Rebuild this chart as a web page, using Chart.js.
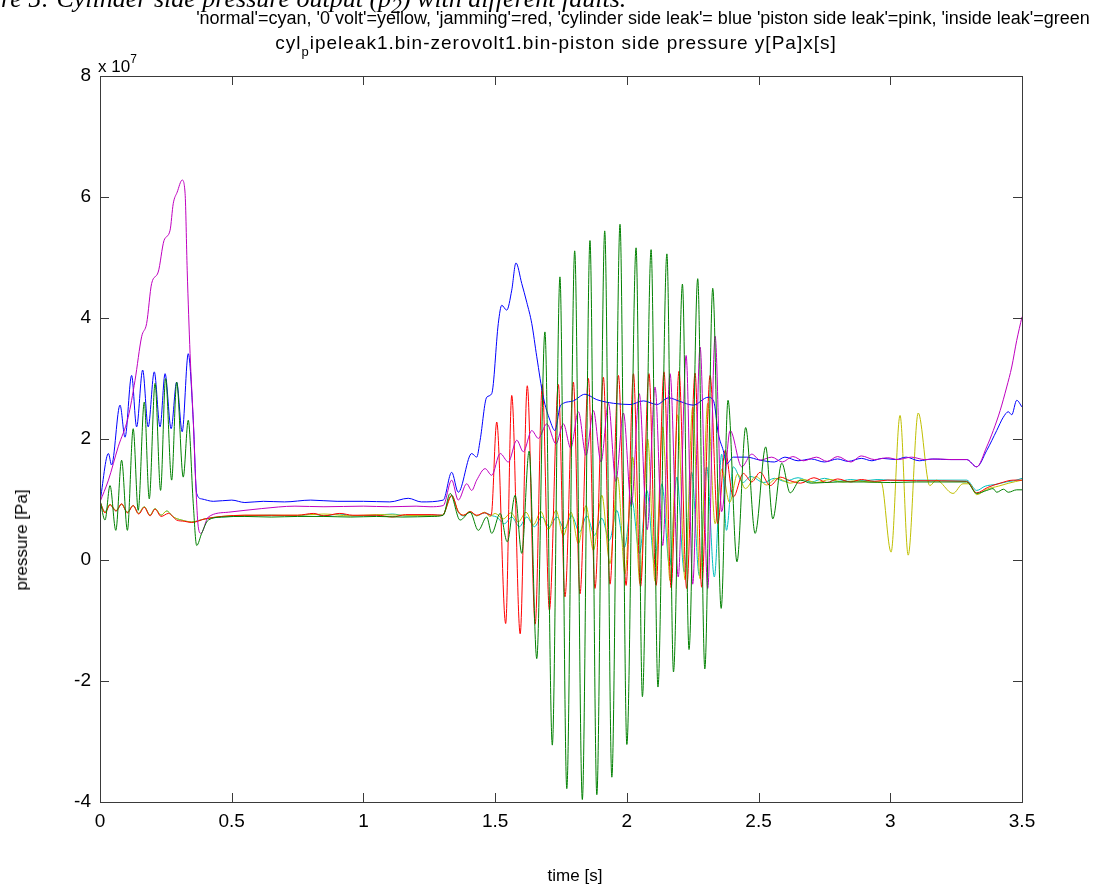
<!DOCTYPE html>
<html>
<head>
<meta charset="utf-8">
<title>Cylinder side pressure</title>
<script src="https://cdn.jsdelivr.net/npm/chart.js@4.4.0/dist/chart.umd.min.js"></script>
<style>
  body { margin: 0; background: #fff; overflow: hidden; font-family: Arial, "Liberation Sans", sans-serif; }
  #wrap { position: relative; width: 1098px; height: 888px; overflow: hidden; }
  #chart { position: absolute; left: 0; top: 0; }
  .txt { position: absolute; white-space: nowrap; color: #000; }
  #cap { left: -48px; top: -16px; font: italic 26px "Liberation Serif", "Times New Roman", serif; }
  #leg { left: 643px; top: 8px; font-size: 18px; transform: translateX(-50%); }
  #sub { left: 556px; top: 32px; font-size: 19px; letter-spacing: 1px; transform: translateX(-50%); }
  #sub sub { font-size: 13px; vertical-align: -7px; }
  #exp { left: 98px; top: 52px; font-size: 17px; }
  #exp sup { font-size: 12px; vertical-align: 9px; }
  #ylab { left: 22px; top: 540px; font-size: 17px; transform: translate(-50%, -50%) rotate(-90deg); }
  #xlab { left: 575px; top: 866px; font-size: 17px; transform: translateX(-50%); }
</style>
</head>
<body>
<div id="wrap">
  <canvas id="chart" width="1098" height="888"></canvas>
  <div class="txt" id="cap">Figure 5: Cylinder side pressure output (p<sub>2</sub>) with different faults.</div>
  <div class="txt" id="leg">'normal'=cyan, '0 volt'=yellow, 'jamming'=red, 'cylinder side leak'= blue 'piston side leak'=pink, 'inside leak'=green</div>
  <div class="txt" id="sub">cyl<sub>p</sub>ipeleak1.bin-zerovolt1.bin-piston side pressure y[Pa]x[s]</div>
  <div class="txt" id="exp">x 10<sup>7</sup></div>
  <div class="txt" id="ylab">pressure [Pa]</div>
  <div class="txt" id="xlab">time [s]</div>
</div>
<script>
// time [s], pressure [x 1e7 Pa]

const xTicks = [0, 0.5, 1, 1.5, 2, 2.5, 3, 3.5];
const yTicks = [-4, -2, 0, 2, 4, 6, 8];

// 'normal' = cyan
const normalPts = [
  [0,0.96],[0.019,0.80],[0.038,0.92],[0.061,0.81],[0.082,0.92],[0.104,0.79],[0.126,0.90],[0.147,0.77],
  [0.168,0.88],[0.19,0.74],[0.209,0.85],[0.232,0.74],[0.253,0.81],[0.279,0.71],[0.31,0.66],[0.348,0.63],
  [0.399,0.68],[0.462,0.71],[0.55,0.73],[0.65,0.74],[0.75,0.73],[0.81,0.76],[0.85,0.73],[0.91,0.76],
  [0.96,0.73],[1.05,0.74],[1.11,0.76],[1.16,0.73],[1.26,0.74],[1.30,0.74],[1.335,1.07],[1.36,0.79],
  [1.38,0.73],[1.405,0.79],[1.43,0.73],[1.46,0.78],[1.49,0.73],[1.506,0.71],[1.535,0.60],[1.563,0.71],
  [1.592,0.55],[1.620,0.71],[1.649,0.55],[1.677,0.71],[1.706,0.55],[1.734,0.71],[1.763,0.52],[1.791,0.73],
  [1.820,0.46],[1.848,0.73],[1.877,0.41],[1.905,0.69],[1.934,0.33],[1.962,0.82],[1.991,0.21],[2.019,0.99],
  [2.048,0.11],[2.076,1.15],[2.105,-0.06],[2.133,1.26],[2.162,-0.10],[2.190,1.37],[2.218,-0.20],[2.246,1.45],
  [2.275,-0.26],[2.303,1.54],[2.332,-0.28],[2.36,1.75],[2.378,0.49],[2.404,1.54],[2.44,1.28],[2.47,1.38],
  [2.52,1.28],[2.56,1.35],[2.6,1.30],[2.65,1.36],[2.70,1.29],[2.75,1.35],[2.8,1.30],[2.85,1.33],
  [2.9,1.31],[2.95,1.33],[3.0,1.32],[3.1,1.32],[3.2,1.32],[3.29,1.32],[3.328,1.15],[3.36,1.22],
  [3.40,1.25],[3.44,1.29],[3.47,1.31],[3.5,1.35]
];

// '0 volt' = yellow
const zeroVoltPts = [
  [0,0.96],[0.019,0.79],[0.038,0.92],[0.061,0.82],[0.082,0.92],[0.104,0.79],[0.126,0.90],[0.145,0.77],
  [0.168,0.88],[0.19,0.74],[0.209,0.85],[0.232,0.74],[0.253,0.81],[0.279,0.71],[0.31,0.66],[0.348,0.63],
  [0.399,0.68],[0.462,0.72],[0.55,0.74],[0.65,0.74],[0.75,0.74],[0.85,0.76],[0.95,0.73],[1.05,0.75],
  [1.15,0.74],[1.26,0.73],[1.30,0.74],[1.335,1.06],[1.36,0.80],[1.38,0.74],[1.405,0.80],[1.43,0.73],
  [1.46,0.79],[1.48,0.72],[1.50,0.77],[1.531,0.68],[1.56,0.78],[1.588,0.63],[1.617,0.79],[1.645,0.58],
  [1.674,0.80],[1.702,0.50],[1.731,0.82],[1.759,0.40],[1.788,0.79],[1.816,0.27],[1.845,0.90],[1.873,0.16],
  [1.905,1.07],[1.936,-0.06],[1.965,1.37],[1.993,-0.23],[2.022,1.70],[2.050,-0.39],[2.079,2.00],[2.107,-0.35],
  [2.136,2.20],[2.164,-0.34],[2.193,2.40],[2.221,-0.33],[2.25,2.53],[2.278,-0.31],[2.307,2.59],[2.335,0.60],
  [2.36,1.50],[2.39,0.95],[2.42,1.42],[2.45,1.18],[2.49,1.38],[2.53,1.24],[2.57,1.35],[2.62,1.27],
  [2.67,1.33],[2.72,1.28],[2.77,1.33],[2.82,1.29],[2.87,1.31],[2.92,1.29],[2.965,1.29],[3.003,0.13],
  [3.037,2.39],[3.068,0.08],[3.106,2.43],[3.15,1.23],[3.175,1.32],[3.238,1.10],[3.276,1.26],[3.30,1.26],
  [3.328,1.08],[3.366,1.17],[3.41,1.22],[3.45,1.27],[3.5,1.32]
];

// 'jamming' = red
const jammingPts = [
  [0,0.96],[0.019,0.78],[0.038,0.91],[0.061,0.81],[0.082,0.93],[0.104,0.78],[0.126,0.90],[0.147,0.76],
  [0.168,0.87],[0.19,0.73],[0.209,0.84],[0.232,0.72],[0.26,0.77],[0.291,0.66],[0.32,0.64],[0.348,0.62],
  [0.399,0.68],[0.462,0.72],[0.55,0.74],[0.65,0.74],[0.75,0.74],[0.81,0.77],[0.85,0.73],[0.91,0.77],
  [0.96,0.74],[1.05,0.74],[1.11,0.71],[1.16,0.75],[1.26,0.75],[1.30,0.74],[1.335,1.07],[1.36,0.80],
  [1.38,0.74],[1.405,0.80],[1.43,0.74],[1.46,0.78],[1.485,0.74],[1.506,2.28],[1.540,-1.05],[1.563,2.72],
  [1.595,-1.22],[1.622,2.88],[1.652,-1.06],[1.679,2.90],[1.706,-0.83],[1.740,2.90],[1.765,-0.61],[1.797,2.94],
  [1.822,-0.56],[1.854,3.00],[1.879,-0.47],[1.911,3.02],[1.936,-0.40],[1.968,3.05],[1.997,-0.42],[2.025,3.08],
  [2.052,-0.44],[2.084,3.08],[2.111,-0.42],[2.141,3.11],[2.168,-0.46],[2.198,3.12],[2.227,-0.47],[2.259,3.09],
  [2.284,-0.45],[2.316,3.05],[2.345,0.60],[2.373,1.81],[2.404,1.04],[2.442,1.43],[2.474,1.29],[2.506,1.45],
  [2.544,1.23],[2.582,1.37],[2.62,1.31],[2.66,1.27],[2.71,1.36],[2.76,1.28],[2.80,1.34],[2.85,1.29],
  [2.89,1.33],[2.94,1.30],[2.99,1.32],[3.1,1.31],[3.29,1.30],[3.328,1.11],[3.37,1.20],[3.417,1.27],
  [3.467,1.32],[3.5,1.32]
];

// 'cylinder side leak' = blue
const cylLeakPts = [
  [0,0.96],[0.032,1.76],[0.044,1.57],[0.076,2.56],[0.095,2.03],[0.120,3.05],[0.139,2.20],[0.162,3.14],
  [0.183,2.20],[0.206,3.11],[0.228,2.20],[0.247,3.08],[0.270,2.17],[0.291,2.94],[0.312,2.12],[0.335,3.41],
  [0.354,2.31],[0.367,1.10],[0.386,1.01],[0.43,0.97],[0.50,0.99],[0.55,0.95],[0.62,0.97],[0.70,0.96],
  [0.80,0.99],[0.90,0.97],[1.0,0.97],[1.1,0.96],[1.17,1.02],[1.22,0.96],[1.303,0.99],[1.335,1.45],
  [1.360,1.12],[1.411,1.76],[1.430,1.70],[1.443,1.98],[1.468,2.69],[1.487,2.75],[1.512,3.91],[1.525,4.21],
  [1.544,4.13],[1.563,4.46],[1.579,4.91],[1.601,4.57],[1.620,4.26],[1.639,3.91],[1.658,3.36],[1.683,2.69],
  [1.708,2.31],[1.727,2.14],[1.746,2.53],[1.759,2.59],[1.797,2.63],[1.841,2.74],[1.886,2.65],[1.949,2.59],
  [2.012,2.57],[2.063,2.63],[2.114,2.57],[2.158,2.68],[2.202,2.62],[2.252,2.56],[2.309,2.69],[2.33,2.62],
  [2.347,2.09],[2.366,1.81],[2.379,1.59],[2.404,1.70],[2.455,1.70],[2.506,1.65],[2.56,1.62],[2.60,1.70],
  [2.65,1.64],[2.70,1.67],[2.75,1.62],[2.80,1.67],[2.84,1.63],[2.89,1.68],[2.93,1.64],[2.97,1.68],
  [3.02,1.66],[3.06,1.70],[3.11,1.64],[3.16,1.67],[3.22,1.66],[3.29,1.66],[3.328,1.54],[3.366,1.81],
  [3.404,2.14],[3.429,2.36],[3.448,2.45],[3.461,2.40],[3.480,2.64],[3.5,2.53]
];

// 'piston side leak' = pink
const pistonLeakPts = [
  [0,0.96],[0.032,1.32],[0.069,1.87],[0.107,2.36],[0.133,2.97],[0.158,3.69],[0.177,3.91],[0.196,4.57],
  [0.221,4.76],[0.243,5.28],[0.266,5.45],[0.278,5.89],[0.293,6.08],[0.312,6.28],[0.323,6.06],[0.331,4.79],
  [0.342,3.41],[0.354,2.31],[0.364,1.21],[0.373,0.55],[0.383,0.44],[0.411,0.71],[0.487,0.79],[0.614,0.85],
  [0.740,0.89],[0.85,0.88],[1.0,0.89],[1.1,0.88],[1.2,0.89],[1.253,0.88],[1.303,0.90],[1.335,1.32],
  [1.360,0.99],[1.392,1.26],[1.411,1.15],[1.430,1.32],[1.462,1.51],[1.487,1.40],[1.519,1.76],[1.550,1.62],
  [1.582,1.98],[1.607,1.79],[1.639,2.14],[1.664,2.01],[1.696,2.25],[1.731,1.92],[1.759,2.25],[1.787,1.85],
  [1.816,2.45],[1.845,1.73],[1.873,2.47],[1.902,1.62],[1.930,2.59],[1.958,1.30],[1.987,2.43],[2.017,0.90],
  [2.047,2.75],[2.077,0.50],[2.107,2.86],[2.136,0.24],[2.164,3.08],[2.195,-0.28],[2.225,3.38],[2.25,-0.40],
  [2.278,3.52],[2.307,-0.47],[2.335,3.70],[2.36,0.80],[2.392,2.14],[2.436,1.54],[2.474,1.75],[2.506,1.65],
  [2.55,1.70],[2.59,1.62],[2.63,1.71],[2.67,1.64],[2.72,1.70],[2.76,1.63],[2.80,1.71],[2.85,1.62],
  [2.89,1.72],[2.94,1.66],[2.99,1.69],[3.03,1.66],[3.08,1.70],[3.13,1.66],[3.18,1.67],[3.23,1.66],
  [3.29,1.66],[3.328,1.54],[3.366,1.87],[3.391,2.14],[3.417,2.47],[3.442,2.86],[3.461,3.19],[3.480,3.63],
  [3.5,4.02]
];

// 'inside leak' = green
const insideLeakPts = [
  [0,0.99],[0.019,0.66],[0.038,1.23],[0.060,0.49],[0.082,1.65],[0.104,0.49],[0.126,2.17],[0.145,0.82],
  [0.168,2.61],[0.187,1.01],[0.209,2.92],[0.230,1.15],[0.249,3.00],[0.272,1.32],[0.291,2.94],[0.316,1.37],
  [0.335,2.31],[0.354,0.93],[0.367,0.24],[0.386,0.44],[0.411,0.66],[0.462,0.71],[0.55,0.72],[0.65,0.71],
  [0.75,0.72],[0.85,0.72],[0.95,0.71],[1.05,0.72],[1.15,0.71],[1.26,0.72],[1.303,0.74],[1.329,1.10],
  [1.367,0.66],[1.405,0.79],[1.436,0.49],[1.468,0.71],[1.487,0.44],[1.519,0.77],[1.546,0.30],[1.576,1.07],
  [1.601,0.11],[1.629,1.80],[1.658,-1.63],[1.689,3.77],[1.717,-3.06],[1.746,4.68],[1.772,-3.78],[1.802,5.11],
  [1.831,-3.96],[1.860,5.28],[1.886,-3.88],[1.916,5.44],[1.943,-3.59],[1.974,5.55],[2.000,-3.05],[2.035,5.16],
  [2.059,-2.26],[2.092,5.13],[2.118,-2.10],[2.152,5.06],[2.177,-1.85],[2.211,4.56],[2.236,-1.48],[2.269,4.65],
  [2.296,-1.80],[2.326,4.49],[2.358,-0.80],[2.384,2.64],[2.418,-0.03],[2.451,2.19],[2.487,0.44],[2.527,1.87],
  [2.554,0.68],[2.588,1.60],[2.620,1.11],[2.658,1.32],[2.70,1.27],[2.8,1.29],[2.9,1.29],[3.0,1.28],
  [3.1,1.29],[3.2,1.29],[3.29,1.29],[3.328,1.10],[3.366,1.15],[3.39,1.18],[3.404,1.12],[3.43,1.17],
  [3.448,1.12],[3.48,1.16],[3.5,1.16]
];

const seriesNames  = ['normal', '0 volt', 'jamming', 'cylinder side leak', 'piston side leak', 'inside leak'];
const seriesPts    = [normalPts, zeroVoltPts, jammingPts, cylLeakPts, pistonLeakPts, insideLeakPts];
const seriesColors = ['#00BFBF', '#BFBF00', '#FF0000', '#0000FF', '#BF00BF', '#008000'];

// MATLAB-style box with inward ticks on all four sides
const boxTicks = {
  id: 'boxTicks',
  afterDatasetsDraw(chart) {
    const { ctx, chartArea: a, scales: { x, y } } = chart;
    const len = 9;
    ctx.save();
    ctx.strokeStyle = '#3a3a3a';
    ctx.lineWidth = 1;
    ctx.strokeRect(Math.round(a.left) + 0.5, Math.round(a.top) + 0.5,
                   Math.round(a.right - a.left), Math.round(a.bottom - a.top));
    ctx.beginPath();
    x.ticks.forEach(t => {
      const px = Math.round(x.getPixelForValue(t.value)) + 0.5;
      ctx.moveTo(px, a.bottom); ctx.lineTo(px, a.bottom - len);
      ctx.moveTo(px, a.top);    ctx.lineTo(px, a.top + len);
    });
    y.ticks.forEach(t => {
      const py = Math.round(y.getPixelForValue(t.value)) + 0.5;
      ctx.moveTo(a.left, py);  ctx.lineTo(a.left + len, py);
      ctx.moveTo(a.right, py); ctx.lineTo(a.right - len, py);
    });
    ctx.stroke();
    ctx.restore();
  }
};

const tickFont = { size: 19, family: 'Arial, "Liberation Sans"' };

const ctx = document.getElementById('chart').getContext('2d');
new Chart(ctx, {
  type: 'line',
  data: {
    datasets: seriesPts.map((pts, i) => ({
      label: seriesNames[i],
      data: pts.map(p => ({ x: p[0], y: p[1] })),
      borderColor: seriesColors[i],
      borderWidth: 1,
      pointRadius: 0,
      fill: false,
      cubicInterpolationMode: 'monotone',
      order: seriesPts.length - i   // later series drawn on top, like MATLAB
    }))
  },
  options: {
    responsive: false,
    animation: false,
    layout: { padding: { top: 76, right: 76, left: 0, bottom: 0 } },
    plugins: { legend: { display: false }, tooltip: { enabled: false }, title: { display: false } },
    scales: {
      x: {
        type: 'linear', min: 0, max: 3.5,
        afterBuildTicks: s => { s.ticks = xTicks.map(v => ({ value: v })); },
        ticks: { color: '#000', font: tickFont, padding: 8, maxRotation: 0, callback: v => String(v) },
        grid: { display: false, drawTicks: false },
        border: { display: false },
        afterFit: s => { s.height = 86; }
      },
      y: {
        type: 'linear', min: -4, max: 8,
        afterBuildTicks: s => { s.ticks = yTicks.map(v => ({ value: v })); },
        ticks: { color: '#000', font: tickFont, padding: 9, callback: v => String(v) },
        grid: { display: false, drawTicks: false },
        border: { display: false },
        afterFit: s => { s.width = 100; }
      }
    }
  },
  plugins: [boxTicks]
});
</script>
</body>
</html>
